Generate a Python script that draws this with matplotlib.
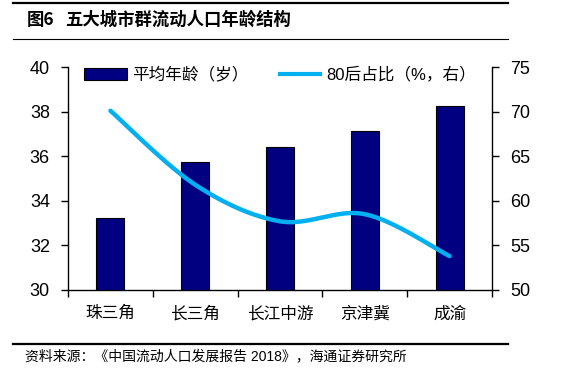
import numpy as np
import matplotlib
matplotlib.use("Agg")
import matplotlib.pyplot as plt
from matplotlib.lines import Line2D
from matplotlib.patches import Patch

plt.rcParams['font.family'] = ['Liberation Sans', 'Noto Sans CJK SC', 'DejaVu Sans']

categories = ['珠三角', '长三角', '长江中游', '京津冀', '成渝']
avg_age = [33.25, 35.72, 36.4, 37.15, 38.27]
share_80s = [70.1, 61.8, 57.7, 58.5, 53.8]
left_ticks = [30, 32, 34, 36, 38, 40]
right_ticks = [50, 55, 60, 65, 70, 75]

bar_color = '#000080'
line_color = '#00B0F0'

fig = plt.figure(figsize=(5.79, 3.80), dpi=100)
ax = fig.add_axes([68/579, 1-290/380, (492-68)/579, (290-67)/380])
ax2 = ax.twinx()

x = np.arange(len(categories))
ax.bar(x, avg_age, width=0.33, color=bar_color, edgecolor='black', linewidth=0.8, zorder=2)
ax.set_ylim(30, 40)
ax.set_yticks(left_ticks)
ax.set_xlim(-0.5, len(categories) - 0.5)
ax.set_xticks(np.arange(-0.5, len(categories), 1.0))
ax.set_xticklabels([])
ax.set_xticks(x, minor=True)
ax.set_xticklabels(categories, minor=True, fontsize=12, family=['Noto Sans CJK SC'])
ax.tick_params(axis='x', which='major', direction='out', length=5, width=1)
ax.tick_params(axis='x', which='minor', length=0, pad=11)
ax.tick_params(axis='y', direction='out', length=5, width=1, labelsize=13, pad=8)

# smooth line (Catmull-Rom rendering of the data points)
xs = x.astype(float)
ys = np.array(share_80s, dtype=float)
px = np.concatenate([[xs[0]], xs, [xs[-1]]])
py = np.concatenate([[ys[0]], ys, [ys[-1]]])
cx, cy = [], []
t = np.linspace(0, 1, 40)
for i in range(1, len(px) - 2):
    p0, p1, p2, p3 = [np.array([px[j], py[j]]) for j in (i-1, i, i+1, i+2)]
    c1 = p1 + (p2 - p0) / 6
    c2 = p2 - (p3 - p1) / 6
    seg = ((1-t)**3)[:, None]*p1 + (3*(1-t)**2*t)[:, None]*c1 + (3*(1-t)*t**2)[:, None]*c2 + (t**3)[:, None]*p2
    cx.extend(seg[:, 0]); cy.extend(seg[:, 1])
ax2.plot(cx, cy, color=line_color, linewidth=3.2, solid_capstyle='round', zorder=3)
ax2.set_ylim(50, 75)
ax2.set_yticks(right_ticks)
ax2.tick_params(axis='y', direction='out', length=5, width=1, labelsize=13, pad=8)

for a in (ax, ax2):
    a.spines['top'].set_visible(False)
    for s in ('left', 'right', 'bottom'):
        a.spines[s].set_linewidth(1)
ax.spines['right'].set_visible(False)
ax2.spines['left'].set_visible(False)
ax2.spines['bottom'].set_visible(False)

handles = [Patch(facecolor=bar_color, edgecolor='black', linewidth=0.8),
           Line2D([0], [0], color=line_color, linewidth=3.0, solid_capstyle='butt')]
labels = ['平均年龄（岁）', '80后占比（%，右）']
ax.legend(handles, labels, loc='center', bbox_to_anchor=(0.5, 0.965), ncol=2,
          frameon=False, fontsize=12, handlelength=2.6, handletextpad=0.3,
          columnspacing=1.8, borderaxespad=0)

# title and rules
fig.text(27/579, 1-20/380, '图6', fontsize=12.5, fontweight='bold',
         family=['Noto Sans CJK SC'], va='center', ha='left')
fig.text(65/579, 1-20/380, '五大城市群流动人口年龄结构', fontsize=12.5, fontweight='bold',
         family=['Noto Sans CJK SC'], va='center', ha='left')
fig.add_artist(Line2D([13/579, 508/579], [1-3/380, 1-3/380], color='black', linewidth=1.6))
fig.add_artist(Line2D([13/579, 508/579], [1-39/380, 1-39/380], color='black', linewidth=0.8))
fig.add_artist(Line2D([13/579, 508/579], [1-344/380, 1-344/380], color='black', linewidth=1.6))
fig.text(25/579, 1-356/380, '资料来源：《中国流动人口发展报告 2018》，海通证券研究所', fontsize=10,
         family=['Liberation Sans', 'Noto Sans CJK SC'], va='center', ha='left')

fig.savefig('out.png', dpi=100)
